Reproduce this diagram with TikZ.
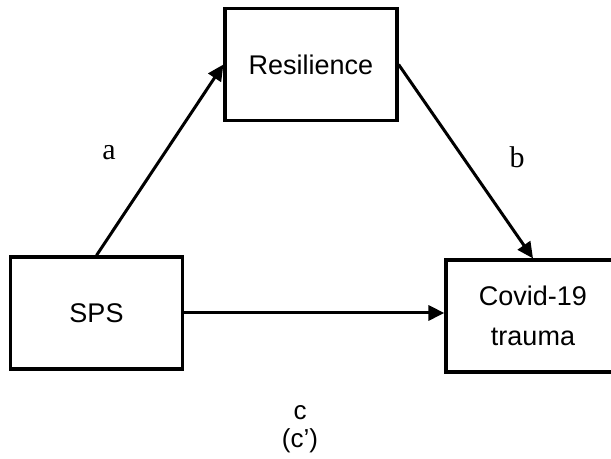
\documentclass[tikz,border=0pt]{standalone}
\usepackage{fontspec}
\setmainfont{Liberation Sans}
\newfontfamily\coeffont{Liberation Serif}
\usepackage{tikz}
\usetikzlibrary{arrows.meta,positioning}
\tikzset{
  var/.style={rectangle, draw=black, line width=1.6pt, fill=white,
              minimum width=86pt, minimum height=56pt,
              font=\fontsize{13.5}{20}\selectfont, text centered, align=center},
  effect/.style={-{Triangle[length=8pt,width=7.5pt]}, line width=1.5pt, black},
  coef/.style={font=\coeffont\fontsize{15}{18}\selectfont},
  direct/.style={font=\fontsize{13}{14}\selectfont, align=center},
}

\begin{document}
\begin{tikzpicture}[x=0.5pt,y=-0.5pt]

%% Page frame
\useasboundingbox (0,0) rectangle (611,459);

%% Box centres
\def\xS{96.5}  % SPS
\def\xR{311}   % Resilience
\def\xC{533}   % Covid-19 trauma (box runs past the right edge)

%% Variables
\node[var] (sps) at (\xS,313) {SPS};
\node[var] (res) at (\xR,64.5) {Resilience};
\node[var, minimum width=87pt] (cov) at (\xC,316) {Covid-19\\trauma};

%% Paths a, b and c
\draw[effect] (sps.north) -- (res.west);
\draw[effect] (res.east) -- (cov.north);
\draw[effect] (sps.east) -- (sps.east -| cov.west);

%% Path labels
\node[coef] (la) at (109,153) {a};
\node[coef] (lb) at (517,157) {b};
\node[direct] (lc) at (300,429) {c\\(c')};

\end{tikzpicture}
\end{document}
